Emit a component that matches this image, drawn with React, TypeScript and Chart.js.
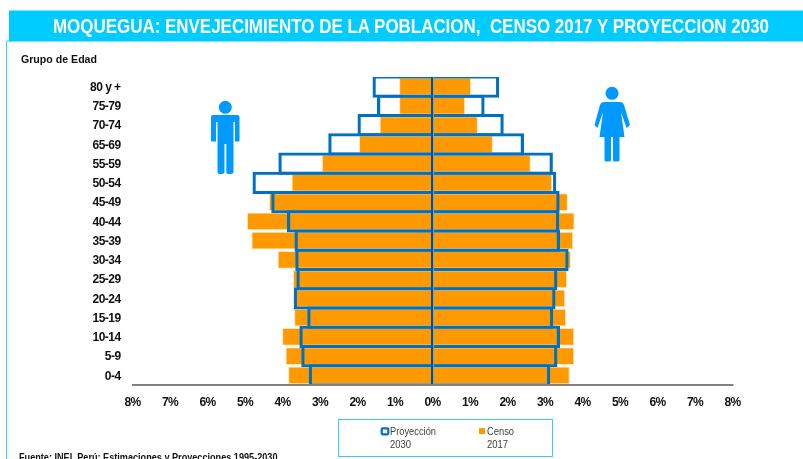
import { useEffect, useRef } from "react";
import { Chart, registerables } from "chart.js";

Chart.register(...registerables);

const ageGroups = ["80 y +", "75-79", "70-74", "65-69", "55-59", "50-54", "45-49", "40-44", "35-39", "30-34", "25-29", "20-24", "15-19", "10-14", "5-9", "0-4"];
const censoMale = [0.89, 0.89, 1.41, 1.96, 2.95, 3.76, 4.36, 4.95, 4.83, 4.13, 3.72, 3.71, 3.69, 4.01, 3.92, 3.85];
const censoFemale = [1.03, 0.87, 1.21, 1.61, 2.62, 3.19, 3.61, 3.79, 3.75, 3.69, 3.59, 3.54, 3.56, 3.78, 3.78, 3.66];
const proyMale = [1.6, 1.48, 2.0, 2.78, 4.11, 4.8, 4.3, 3.88, 3.68, 3.66, 3.63, 3.7, 3.34, 3.55, 3.5, 3.3];
const proyFemale = [1.78, 1.39, 1.9, 2.44, 3.21, 3.3, 3.39, 3.38, 3.4, 3.63, 3.33, 3.28, 3.22, 3.4, 3.33, 3.14];

const TITLE = "MOQUEGUA: ENVEJECIMIENTO DE LA POBLACION,  CENSO 2017 Y PROYECCION 2030";
const FONT = "'Liberation Sans', Arial, sans-serif";
const ORANGE = "#FF9900";
const BLUE = "#0070C0";

const neg = (a: number[]) => a.map((v) => -v);

const condensedText = {
  id: "condensedText",
  beforeDraw(chart: any) {
    chart.ctx.letterSpacing = "-0.55px";
  },
};

export default function App() {
  const ref = useRef<HTMLCanvasElement | null>(null);

  useEffect(() => {
    const censoStyle = {
      backgroundColor: ORANGE,
      borderColor: "rgba(255,226,180,0.9)",
      borderWidth: 1,
      borderSkipped: "start" as const,
      barPercentage: 0.93,
      categoryPercentage: 1,
      order: 2,
    };
    const proyStyle = {
      backgroundColor: "rgba(0,0,0,0)",
      borderColor: BLUE,
      borderWidth: 3.2,
      borderSkipped: "start" as const,
      barPercentage: 1.166,
      categoryPercentage: 1,
      order: 1,
    };
    const chart = new Chart(ref.current!, {
      type: "bar",
      plugins: [condensedText],
      data: {
        labels: ageGroups,
        datasets: [
          { label: "Censo 2017 H", data: neg(censoMale), ...censoStyle },
          { label: "Censo 2017 M", data: censoFemale, ...censoStyle },
          { label: "Proyección 2030 H", data: neg(proyMale), ...proyStyle },
          { label: "Proyección 2030 M", data: proyFemale, ...proyStyle },
        ],
      },
      options: {
        indexAxis: "y",
        responsive: false,
        animation: false,
        datasets: { bar: { grouped: false } },
        layout: { padding: { top: 77, right: 70.5, left: 0, bottom: 0 } },
        plugins: { legend: { display: false }, tooltip: { enabled: false }, title: { display: false } },
        scales: {
          x: {
            min: -8,
            max: 8,
            border: { display: true, color: "#808080", width: 2, z: 1 },
            grid: {
              drawTicks: false,
              z: 1,
              lineWidth: 2.5,
              color: (c: any) => (c.tick && c.tick.value === 0 ? "#0A4F86" : "rgba(0,0,0,0)"),
            },
            ticks: {
              stepSize: 1,
              padding: 10,
              maxRotation: 0,
              autoSkip: false,
              color: "#111111",
              font: { family: FONT, size: 12, weight: "bold" },
              callback: (v: any) => Math.abs(Number(v)) + "%",
            },
            afterFit: (s: any) => {
              s.height = 74;
            },
          },
          y: {
            border: { display: false },
            grid: { display: false, drawTicks: false },
            ticks: {
              padding: 12,
              labelOffset: 1,
              autoSkip: false,
              color: "#111111",
              font: { family: FONT, size: 12, weight: "bold" },
            },
            afterFit: (s: any) => {
              s.width = 132.5;
            },
          },
        },
      },
    } as any);
    return () => chart.destroy();
  }, []);

  return (
    <div style={{ position: "fixed", left: 0, top: 0, width: 803, height: 459, overflow: "hidden", background: "#fff" }}>
      <canvas ref={ref} width={803} height={459} style={{ position: "absolute", left: 0, top: 0, display: "block" }} />
      <svg width={803} height={459} style={{ position: "absolute", left: 0, top: 0, pointerEvents: "none" }}>
        <path d="M6.5 459V41H12" fill="none" stroke="#33CCFF" strokeWidth={1} />
        <rect x={9} y={10.5} width={794} height={31} fill="#00CCFF" />
        <text x={53} y={33.3} textLength={716} lengthAdjust="spacingAndGlyphs" fill="#fff" fontFamily={FONT} fontWeight="bold" fontSize={21} style={{ whiteSpace: "pre" }}>
          {TITLE}
        </text>
        <text x={21} y={63} textLength={76} lengthAdjust="spacingAndGlyphs" fill="#111" fontFamily={FONT} fontWeight="bold" fontSize={11}>
          Grupo de Edad
        </text>
        <g fill="#0099FF" style={{ filter: "blur(0.4px)" }}>
          <circle cx={225.3} cy={107.3} r={6.5} />
          <path d="M213 115H237.5Q239.5 115 239.5 117V141.5H235V122H233.5V172Q233.5 174 231 174H228Q226.3 174 226.3 172V144H224.5V172Q224.5 174 222 174H219.5Q217.5 174 217.5 172V122H216V141.5H211V117Q211 115 213 115Z" />
          <circle cx={612} cy={93.3} r={6.5} />
          <path d="M604 102H620Q623 102 624 105L630 125L626.5 128L621 112L624.5 137H619.5V160Q619.5 161.5 617.5 161.5H614.5Q613 161.5 613 160V137H611V160Q611 161.5 609 161.5H606Q604.5 161.5 604.5 160V137H599.5L603 112L597.5 128L594.5 125L600 105Q601 102 604 102Z" />
        </g>
        <rect x={338.5} y={419.5} width={214} height={37} fill="#fff" stroke="#33CCFF" strokeWidth={1} />
        <rect x={381.7} y={428.3} width={6.6} height={6} rx={1} fill="#fff" stroke={BLUE} strokeWidth={2.2} />
        <rect x={479} y={428} width={6} height={6} fill={ORANGE} />
        <g fill="#404040" fontFamily={FONT} fontSize={10.5}>
          <text x={390} y={435} textLength={46} lengthAdjust="spacingAndGlyphs">Proyección</text>
          <text x={390} y={448} textLength={21} lengthAdjust="spacingAndGlyphs">2030</text>
          <text x={487} y={435} textLength={27} lengthAdjust="spacingAndGlyphs">Censo</text>
          <text x={487} y={448} textLength={21} lengthAdjust="spacingAndGlyphs">2017</text>
        </g>
        <text x={19} y={461} textLength={261} lengthAdjust="spacingAndGlyphs" fill="#111" fontFamily={FONT} fontWeight="bold" fontSize={10}>
          Fuente: INEI, Perú: Estimaciones y Proyecciones 1995-2030.
        </text>
      </svg>
    </div>
  );
}
